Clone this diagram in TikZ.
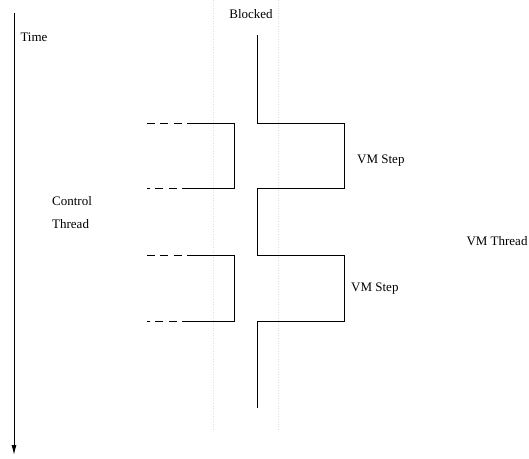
\documentclass[tikz,border=0pt]{standalone}
\usepackage{fontspec}
\setmainfont{Liberation Serif}
\usetikzlibrary{arrows.meta, positioning}
\tikzset{
  txt/.style={font=\fontsize{13}{15}\selectfont, inner sep=0pt},
  thread/.style={line width=1pt},
  pending/.style={line width=1pt, dash pattern=on 8pt off 5.3pt},
  guide/.style={black!12, dotted, line width=0.6pt},
  arrow/.style={-{Latex[length=10pt,width=5pt]}, line width=1pt}
}

\begin{document}
\begin{tikzpicture}[x=1pt, y=-1pt]
    \useasboundingbox (0,0) rectangle (529,458);

    % faint guides
    \coordinate (g1top) at (213,0);
    \coordinate (g1bot) at (213,430);
    \coordinate (g2top) at (278,0);
    \coordinate (g2bot) at (278,430);
    \draw[guide] (g1top) -- (g1bot);
    \draw[guide] (g2top) -- (g2bot);

    % time axis
    \coordinate (t0) at (14,13);
    \coordinate (t1) at (14,455);
    \draw[arrow] (t0) -- (t1);
    \node[txt] (time) at (34,37) {Time};

    % VM thread
    \coordinate (vtop) at (257,35);
    \coordinate (s1top) at (344,123);
    \coordinate (s1bot) at (257,188);
    \coordinate (s2top) at (344,255);
    \coordinate (s2bot) at (257,321);
    \coordinate (vbot) at (257,408);
    \draw[thread] (vtop) |- (s1top) |- (s1bot) |- (s2top) |- (s2bot) -- (vbot);

    % control thread
    \coordinate (c1a) at (147,123);
    \coordinate (c1b) at (190,123);
    \coordinate (c1c) at (234,188);
    \coordinate (c1d) at (190,188);
    \coordinate (c1e) at (147,188);
    \draw[pending] (c1a) -- (c1b);
    \draw[thread] (c1b) -| (c1c) -- (c1d);
    \draw[pending] (c1d) -- (c1e);

    \coordinate (c2a) at (147,255);
    \coordinate (c2b) at (190,255);
    \coordinate (c2c) at (234,321);
    \coordinate (c2d) at (190,321);
    \coordinate (c2e) at (147,321);
    \draw[pending] (c2a) -- (c2b);
    \draw[thread] (c2b) -| (c2c) -- (c2d);
    \draw[pending] (c2d) -- (c2e);

    % labels
    \node[txt] (blocked) at (251,14) {Blocked};
    \node[txt, anchor=west] (step1) at (357,161) {VM Step};
    \node[txt, anchor=west] (step2) at (351,289) {VM Step};
    \node[txt, anchor=west] (ctl) at (52,201) {Control};
    \node[txt, anchor=west] (thr) at (52,224) {Thread};
    \node[txt] (vmthread) at (497,241) {VM Thread};
\end{tikzpicture}
\end{document}
